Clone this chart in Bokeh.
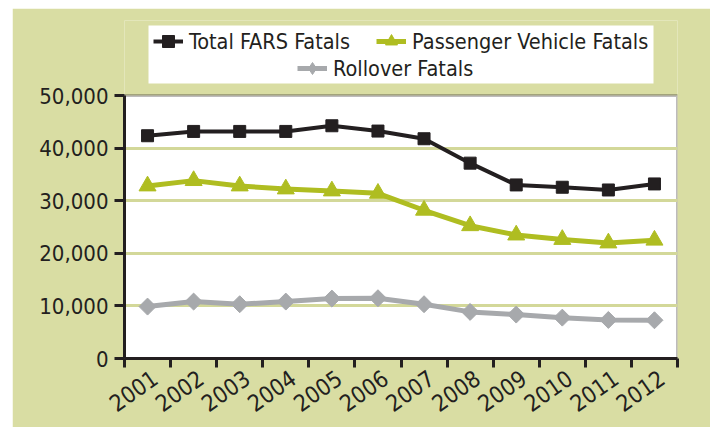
import math
from bokeh.plotting import figure
from bokeh.models import (Range1d, FixedTicker, NumeralTickFormatter, Legend,
                          LegendItem, BoxAnnotation)
from bokeh.embed import file_html
from bokeh.resources import INLINE

# ---- data ----
years = ["2001", "2002", "2003", "2004", "2005", "2006",
         "2007", "2008", "2009", "2010", "2011", "2012"]
total_fars = [42350, 43170, 43170, 43170, 44250, 43240,
              41780, 37140, 33000, 32560, 32040, 33190]
passenger_vehicle = [32800, 33820, 32800, 32230, 31850, 31400,
                     28180, 25240, 23470, 22630, 21960, 22490]
rollover = [9870, 10820, 10320, 10820, 11390, 11460,
            10320, 8860, 8350, 7770, 7330, 7270]
y_ticks = [0, 10000, 20000, 30000, 40000, 50000]

# ---- styles ----
KHAKI = "#d9dda3"
GRID = "#d3d899"
BLACK = "#231f20"
GREEN = "#afbd21"
GRAY = "#a7a9ac"
FONT = "'DejaVu Sans Condensed', 'Liberation Sans Narrow', Roboto"
Y_VIEW_TOP = 64260   # frame extends above the data box to hold the legend
LABEL_SHIFT = 0.16   # rotated year labels sit slightly right of the point

n = len(years)
x = [i + 0.5 for i in range(n)]
label_pos = [xi + LABEL_SHIFT for xi in x]

p = figure(width=698, height=419, output_backend="svg", toolbar_location=None,
           x_range=Range1d(0, n), y_range=Range1d(y_ticks[0], Y_VIEW_TOP),
           min_border_left=112, min_border_right=33, min_border_top=12,
           min_border_bottom=69)
p.margin = (8, 0, 0, 12)
p.border_fill_color = KHAKI
p.background_fill_color = KHAKI
p.outline_line_color = None

# white data box with black frame
data_box = BoxAnnotation(left=0, right=n, bottom=y_ticks[0], top=y_ticks[-1],
                         fill_color="white", fill_alpha=1.0,
                         line_color=BLACK, line_width=3, level="image")
p.add_layout(data_box)

# x axis
xa = p.xaxis[0]
xa.ticker = FixedTicker(ticks=label_pos, minor_ticks=list(range(n + 1)))
xa.major_label_overrides = {lp: yr for lp, yr in zip(label_pos, years)}
xa.major_tick_line_color = None
xa.minor_tick_line_color = BLACK
xa.minor_tick_line_width = 3
xa.minor_tick_out = 9
xa.minor_tick_in = 0
xa.axis_line_color = BLACK
xa.axis_line_width = 3
xa.major_label_orientation = math.radians(35)
xa.major_label_text_font = FONT
xa.major_label_text_font_size = "23px"
xa.major_label_text_color = BLACK
xa.major_label_standoff = 8

# y axis
ya = p.yaxis[0]
ya.bounds = (y_ticks[0], y_ticks[-1])
ya.ticker = FixedTicker(ticks=y_ticks)
ya.formatter = NumeralTickFormatter(format="0,0")
ya.major_tick_out = 10
ya.major_tick_in = 0
ya.major_tick_line_width = 3
ya.major_tick_line_color = BLACK
ya.minor_tick_line_color = None
ya.axis_line_color = BLACK
ya.axis_line_width = 3
ya.major_label_text_font = FONT
ya.major_label_text_font_size = "22px"
ya.major_label_text_color = BLACK
ya.major_label_standoff = 6

p.xgrid.visible = False
p.ygrid.ticker = FixedTicker(ticks=y_ticks[1:-1])
p.ygrid.grid_line_color = GRID
p.ygrid.grid_line_width = 3

# series
r3l = p.line(x, rollover, line_color=GRAY, line_width=5)
# diamond used by the legend; hidden beneath the rotated square on the plot
r3d = p.scatter(x, rollover, marker="diamond", size=15,
                fill_color=GRAY, line_color=GRAY)
r3s = p.scatter(x, rollover, marker="square", angle=math.pi / 4, size=12,
                fill_color=GRAY, line_color=GRAY)
r2l = p.line(x, passenger_vehicle, line_color=GREEN, line_width=5)
r2s = p.scatter(x, passenger_vehicle, marker="triangle", size=17,
                fill_color=GREEN, line_color=GREEN)
r1l = p.line(x, total_fars, line_color=BLACK, line_width=4)
r1s = p.scatter(x, total_fars, marker="square", size=12,
                fill_color=BLACK, line_color=BLACK)

# legend background (white box)
legend_box = BoxAnnotation(left=136, right=641, top=17, bottom=75,
                           left_units="canvas", right_units="canvas",
                           top_units="canvas", bottom_units="canvas",
                           fill_color="white", fill_alpha=1.0, line_color=None,
                           level="underlay")
p.add_layout(legend_box)

def make_legend(items, loc):
    leg = Legend(items=items, orientation="horizontal", location=loc)
    leg.background_fill_alpha = 0.0
    leg.border_line_color = None
    leg.label_text_font = FONT
    leg.label_text_font_size = "21.5px"
    leg.label_text_color = BLACK
    leg.glyph_width = 30
    leg.glyph_height = 30
    leg.label_standoff = 6
    leg.spacing = 26
    leg.padding = 3
    leg.margin = 0
    return leg

legA = make_legend([
    LegendItem(label="Total FARS Fatals", renderers=[r1l, r1s]),
    LegendItem(label="Passenger Vehicle Fatals", renderers=[r2l, r2s]),
], (29, 302))
legB = make_legend([
    LegendItem(label="Rollover Fatals", renderers=[r3l, r3d]),
], (173, 275))
p.add_layout(legA)
p.add_layout(legB)

open("out.html", "w").write(file_html(p, INLINE))
